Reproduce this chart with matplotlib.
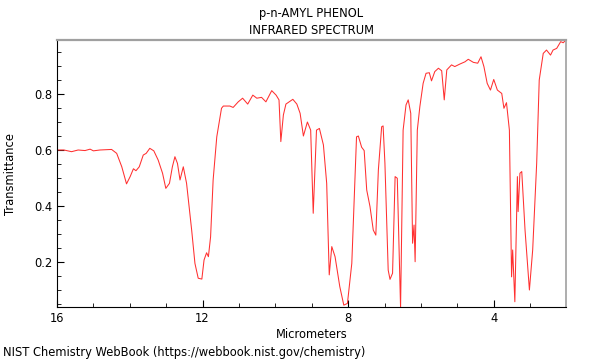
"""p-n-Amyl phenol IR spectrum, redrawn in the NIST WebBook style."""
import matplotlib
matplotlib.use("Agg")
import matplotlib.pyplot as plt
from matplotlib.ticker import MultipleLocator

# wavelength (micrometers) and transmittance
wavelength = [
    16.00, 15.81, 15.60, 15.42, 15.23, 15.09, 15.00, 14.82, 14.50, 14.36,
    14.22, 14.09, 13.99, 13.90, 13.83, 13.74, 13.63, 13.55, 13.45, 13.34,
    13.22, 13.10, 13.01, 12.91, 12.83, 12.76, 12.69, 12.62, 12.53, 12.44,
    12.30, 12.21, 12.12, 12.02, 11.96, 11.89, 11.84, 11.78, 11.71, 11.61,
    11.48, 11.43, 11.25, 11.16, 11.02, 10.90, 10.76, 10.62, 10.51, 10.38,
    10.26, 10.10, 9.98, 9.90, 9.85, 9.78, 9.71, 9.52, 9.41, 9.32,
    9.23, 9.12, 9.03, 8.96, 8.87, 8.79, 8.68, 8.59, 8.52, 8.45,
    8.36, 8.23, 8.12, 8.02, 7.90, 7.77, 7.72, 7.63, 7.56, 7.49,
    7.40, 7.31, 7.24, 7.17, 7.08, 7.04, 6.99, 6.90, 6.85, 6.78,
    6.71, 6.65, 6.56, 6.49, 6.41, 6.35, 6.28, 6.23, 6.19, 6.16,
    6.10, 6.03, 5.94, 5.86, 5.77, 5.71, 5.62, 5.52, 5.43, 5.36,
    5.29, 5.16, 5.07, 4.93, 4.79, 4.70, 4.56, 4.44, 4.35, 4.27,
    4.18, 4.09, 4.00, 3.90, 3.78, 3.72, 3.65, 3.57, 3.51, 3.48,
    3.42, 3.35, 3.33, 3.28, 3.23, 3.14, 3.02, 2.93, 2.82, 2.75,
    2.64, 2.55, 2.44, 2.37, 2.27, 2.16, 2.09, 2.04,
]
transmittance = [
    0.600, 0.600, 0.594, 0.600, 0.598, 0.603, 0.597, 0.600, 0.602, 0.588,
    0.540, 0.479, 0.505, 0.533, 0.526, 0.540, 0.582, 0.588, 0.606, 0.597,
    0.564, 0.517, 0.463, 0.481, 0.540, 0.576, 0.552, 0.493, 0.540, 0.481,
    0.314, 0.195, 0.142, 0.139, 0.207, 0.233, 0.219, 0.290, 0.493, 0.647,
    0.749, 0.757, 0.757, 0.752, 0.772, 0.785, 0.764, 0.796, 0.785, 0.788,
    0.772, 0.812, 0.796, 0.779, 0.630, 0.725, 0.764, 0.781, 0.764, 0.731,
    0.650, 0.700, 0.671, 0.374, 0.671, 0.677, 0.618, 0.481, 0.154, 0.255,
    0.219, 0.112, 0.046, 0.052, 0.195, 0.647, 0.650, 0.610, 0.598, 0.457,
    0.398, 0.314, 0.296, 0.529, 0.683, 0.686, 0.553, 0.171, 0.138, 0.160,
    0.505, 0.499, 0.036, 0.671, 0.761, 0.779, 0.731, 0.267, 0.332, 0.201,
    0.671, 0.755, 0.838, 0.874, 0.876, 0.847, 0.880, 0.892, 0.883, 0.779,
    0.886, 0.904, 0.898, 0.907, 0.915, 0.924, 0.913, 0.910, 0.933, 0.898,
    0.838, 0.814, 0.852, 0.814, 0.802, 0.749, 0.769, 0.671, 0.147, 0.243,
    0.058, 0.505, 0.380, 0.517, 0.523, 0.314, 0.100, 0.243, 0.553, 0.850,
    0.945, 0.957, 0.939, 0.957, 0.963, 0.987, 0.983, 0.990,
]

x_ticks = [16, 12, 8, 4]
y_ticks = [0.2, 0.4, 0.6, 0.8]

plt.rcParams["font.family"] = ["DejaVu Sans"]
FS = 8.3

fig = plt.figure(figsize=(6, 3.6), dpi=100)
ax = fig.add_axes([0.095, 0.147, 0.848, 0.742])

ax.plot(wavelength, transmittance, color="#ff3030", linewidth=0.75)

ax.set_xlim(16, 2.02)
ax.set_ylim(0.039, 0.993)
ax.set_xticks(x_ticks)
ax.set_yticks(y_ticks)
ax.set_xticklabels([str(t) for t in x_ticks])
ax.set_yticklabels([f"{t:.1f}" for t in y_ticks])
ax.xaxis.set_minor_locator(MultipleLocator(1))
ax.yaxis.set_minor_locator(MultipleLocator(0.05))
ax.tick_params(which="major", direction="in", length=5, width=0.8, labelsize=FS)
ax.tick_params(which="minor", direction="in", length=3, width=0.6)
ax.tick_params(top=False, right=False, which="both")

for side in ("left", "bottom"):
    ax.spines[side].set_color("black")
    ax.spines[side].set_linewidth(0.8)
ax.spines["top"].set_color("#a0a0a0")
ax.spines["top"].set_linewidth(1.6)
ax.spines["right"].set_color("#a0a0a0")
ax.spines["right"].set_linewidth(1.2)

ax.set_xlabel("Micrometers", fontsize=FS, labelpad=2)
ax.set_ylabel("Transmittance", fontsize=FS, labelpad=12)

fig.text(0.519, 0.963, "p-n-AMYL PHENOL", ha="center", va="center", fontsize=FS)
fig.text(0.519, 0.916, "INFRARED SPECTRUM", ha="center", va="center", fontsize=FS)
fig.text(0.005, 0.022, "NIST Chemistry WebBook (https://webbook.nist.gov/chemistry)",
         ha="left", va="center", fontsize=FS)

fig.savefig("out.png", dpi=100)
